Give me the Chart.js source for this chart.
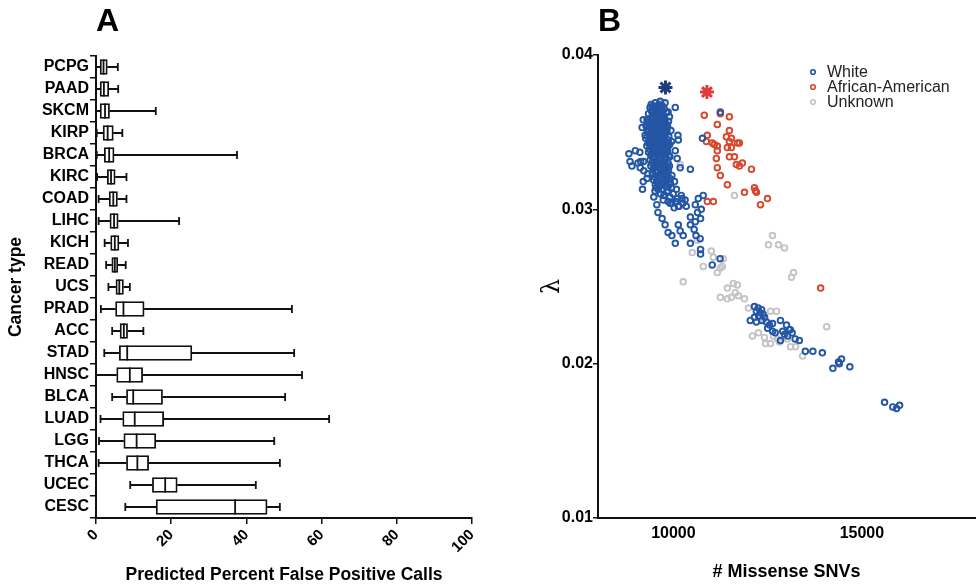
<!DOCTYPE html>
<html>
<head>
<meta charset="utf-8">
<script src="https://cdn.jsdelivr.net/npm/chart.js@4.4.1/dist/chart.umd.min.js"></script>
<style>
  body { margin: 0; background: #fff; width: 976px; height: 587px; overflow: hidden; position: relative; font-family: "Liberation Sans", Arial, sans-serif; }
  #boxChart { position: absolute; left: 0; top: 0; }
  #scatterChart { position: absolute; left: 490px; top: 0; }
  .panel { position: absolute; top: 0; font-weight: bold; font-size: 32px; line-height: 40px; }
</style>
</head>
<body>
<canvas id="boxChart" width="490" height="587"></canvas>
<canvas id="scatterChart" width="486" height="587"></canvas>
<div class="panel" style="left:96px">A</div>
<div class="panel" style="left:598px">B</div>
<script>
// ---- panel A: box plots ----
const cancerTypes = ["PCPG", "PAAD", "SKCM", "KIRP", "BRCA", "KIRC", "COAD", "LIHC", "KICH", "READ", "UCS",
  "PRAD", "ACC", "STAD", "HNSC", "BLCA", "LUAD", "LGG", "THCA", "UCEC", "CESC"];
const boxMin = [0, 0, 0, 0.2, 0.2, 0.3, 0.7, 0.7, 2.3, 2.7, 3.3, 1.3, 4.3, 2.2, 0, 4.3, 1.2, 0.8, 0.7, 9.1, 7.8];
const boxQ1 = [1.1, 1.1, 1.1, 1.9, 2.2, 3.0, 3.5, 3.7, 3.9, 4.2, 5.3, 5.2, 6.4, 6.2, 5.5, 8.1, 7.1, 7.4, 8.1, 15.0, 16.0];
const boxMed = [2.0, 2.1, 2.4, 3.1, 3.5, 4.0, 4.6, 4.8, 5.0, 5.0, 6.2, 7.3, 7.4, 8.3, 9.0, 9.9, 10.3, 10.8, 11.0, 18.4, 37.0];
const boxQ3 = [3.0, 3.4, 3.6, 4.6, 4.8, 5.1, 5.7, 5.9, 6.1, 5.8, 7.3, 12.8, 8.4, 25.5, 12.4, 17.7, 18.0, 15.9, 14.0, 21.6, 45.5];
const boxMax = [5.8, 5.9, 15.9, 7.0, 37.5, 8.1, 8.1, 22.1, 8.5, 7.9, 9.0, 52.1, 12.6, 52.7, 54.8, 50.3, 62.0, 47.4, 48.9, 42.5, 48.9];

// ---- panel B: scatter ----
const xTicksB = [10000, 15000];
const whitePts = [
  // left stragglers
  [8820, 0.0336], [8850, 0.0331], [8900, 0.0328], [8990, 0.0338], [9060, 0.0330], [9110, 0.0337], [9130, 0.0331],
  [9120, 0.0327], [9210, 0.0331], [9215, 0.0325], [9320, 0.0323], [9200, 0.0318], [9180, 0.0313], [9300, 0.0320],
  // top edge
  [9410, 0.0368], [9520, 0.0369], [9650, 0.0370], [9780, 0.0369], [10050, 0.0366], [9860, 0.0363], [9200, 0.0358],
  [9170, 0.0353], [9250, 0.0348], [10120, 0.0348], [10130, 0.0345], [10050, 0.0338], [10100, 0.0333], [10180, 0.0327],
  [10450, 0.0326], [11245, 0.0363], [10770, 0.0346], [10790, 0.0309],
  // dense core
  [9380, 0.0366], [9455, 0.0367], [9540, 0.0366], [9610, 0.0368], [9700, 0.0367], [9760, 0.0365],
  [9340, 0.0362], [9430, 0.0363], [9505, 0.0361], [9590, 0.0364], [9660, 0.0362], [9735, 0.0361], [9810, 0.0363], [9895, 0.0360],
  [9300, 0.0358], [9395, 0.0359], [9480, 0.0357], [9570, 0.0358], [9645, 0.0356], [9720, 0.0358], [9790, 0.0356], [9870, 0.0357],
  [9275, 0.0354], [9360, 0.0355], [9445, 0.0353], [9525, 0.0355], [9610, 0.0352], [9695, 0.0354], [9765, 0.0352], [9845, 0.0354], [9935, 0.0351],
  [9310, 0.0350], [9400, 0.0349], [9475, 0.0351], [9560, 0.0348], [9640, 0.0350], [9715, 0.0348], [9800, 0.0350], [9880, 0.0347],
  [9265, 0.0346], [9350, 0.0345], [9430, 0.0347], [9515, 0.0344], [9595, 0.0346], [9675, 0.0344], [9750, 0.0346], [9830, 0.0343], [9950, 0.0344],
  [9295, 0.0341], [9385, 0.0342], [9465, 0.0340], [9545, 0.0342], [9625, 0.0339], [9705, 0.0341], [9785, 0.0339], [9865, 0.0341],
  [9340, 0.0337], [9420, 0.0336], [9500, 0.0338], [9580, 0.0335], [9660, 0.0337], [9740, 0.0335], [9820, 0.0337], [9905, 0.0334],
  [9380, 0.0332], [9455, 0.0333], [9535, 0.0331], [9620, 0.0333], [9700, 0.0330], [9780, 0.0332], [9860, 0.0330],
  [9400, 0.0328], [9490, 0.0327], [9570, 0.0329], [9650, 0.0326], [9730, 0.0328], [9810, 0.0326], [9895, 0.0328],
  [9440, 0.0323], [9525, 0.0324], [9605, 0.0322], [9685, 0.0324], [9765, 0.0321], [9850, 0.0323], [9960, 0.0322],
  [9475, 0.0319], [9560, 0.0318], [9640, 0.0320], [9720, 0.0317], [9800, 0.0319], [9885, 0.0316], [10030, 0.0318],
  [9540, 0.0314], [9625, 0.0315], [9700, 0.0313], [9785, 0.0315], [9860, 0.0312], [9950, 0.0314], [10080, 0.0313],
  [9660, 0.0310], [9745, 0.0309], [9830, 0.0311], [9910, 0.0308], [9995, 0.0310], [10100, 0.0307], [10210, 0.0309],
  [9860, 0.0305], [9960, 0.0304], [10060, 0.0305], [10150, 0.0302], [10250, 0.0304],
  [9420, 0.0364], [9500, 0.0365], [9580, 0.0362], [9690, 0.0364], [9620, 0.0360], [9460, 0.0359], [9540, 0.0360],
  [9700, 0.0360], [9760, 0.0359], [9330, 0.0356], [9420, 0.0357], [9500, 0.0355], [9580, 0.0356], [9670, 0.0357],
  [9740, 0.0355], [9820, 0.0355], [9340, 0.0352], [9420, 0.0351], [9500, 0.0352], [9590, 0.0350], [9670, 0.0352],
  [9745, 0.0350], [9830, 0.0351], [9380, 0.0347], [9455, 0.0348], [9540, 0.0346], [9620, 0.0347], [9700, 0.0346],
  [9780, 0.0348], [9860, 0.0345], [9330, 0.0343], [9410, 0.0344], [9490, 0.0342], [9570, 0.0344], [9655, 0.0342],
  [9730, 0.0343], [9810, 0.0341], [9900, 0.0342], [9360, 0.0339], [9440, 0.0340], [9525, 0.0338], [9600, 0.0340],
  [9685, 0.0338], [9760, 0.0339], [9845, 0.0338], [9400, 0.0335], [9480, 0.0334], [9560, 0.0336], [9640, 0.0334],
  [9720, 0.0336], [9800, 0.0334], [9880, 0.0335], [9430, 0.0330], [9510, 0.0329], [9595, 0.0331], [9675, 0.0329],
  [9755, 0.0330], [9840, 0.0328], [9460, 0.0326], [9545, 0.0325], [9625, 0.0327], [9710, 0.0325], [9790, 0.0324],
  [9870, 0.0325], [9500, 0.0321], [9585, 0.0322], [9665, 0.0321], [9745, 0.0322], [9825, 0.0320], [9910, 0.0320],
  [9520, 0.0316], [9600, 0.0317], [9680, 0.0316], [9760, 0.0317], [9840, 0.0315], [9920, 0.0317],
  // tail below the core
  [9510, 0.0312], [9600, 0.0313], [9480, 0.0308], [9560, 0.0303], [9590, 0.0298], [9700, 0.0294], [9780, 0.0290],
  [9860, 0.0285], [9960, 0.0283], [10050, 0.0278], [10130, 0.0290], [10180, 0.0286], [10260, 0.0283], [10450, 0.0290],
  [10450, 0.0278], [10710, 0.0281], [10720, 0.0274], [10720, 0.0271], [10660, 0.0307], [10580, 0.0303], [10640, 0.0298],
  [10740, 0.0300], [10720, 0.0294], [10580, 0.0292], [10450, 0.0295], [10340, 0.0302], [10130, 0.0302], [10020, 0.0301],
  [9910, 0.0304], [9730, 0.0306], [10230, 0.0307], [10310, 0.0306], [11240, 0.0268], [11030, 0.0264], [10550, 0.0287],
  [10600, 0.0283],
  // lower group
  [12150, 0.0237], [12340, 0.0235], [12260, 0.0231], [12150, 0.0230], [12420, 0.0230], [12470, 0.0227], [12630, 0.0226],
  [12040, 0.0228], [12500, 0.0223], [12840, 0.0228], [12630, 0.0221], [12900, 0.0221], [13070, 0.0222], [13100, 0.0222],
  [13030, 0.0218], [12840, 0.0215], [13230, 0.0216], [13340, 0.0215], [13500, 0.0208], [13700, 0.0208], [13950, 0.0207],
  [12200, 0.0234], [12300, 0.0233], [12380, 0.0232], [12250, 0.0236], [12350, 0.0228], [12200, 0.0227], [12550, 0.0225],
  [12700, 0.0220], [13000, 0.0225], [12950, 0.0219], [13150, 0.0220],
  [14230, 0.0197], [14380, 0.0201], [14460, 0.0203], [14400, 0.0200], [14680, 0.0198],
  [15600, 0.0175], [15820, 0.0172], [15920, 0.0171], [16000, 0.0173]
];
const afrAmPts = [
  [10820, 0.0361], [11245, 0.0362], [11485, 0.0360], [11165, 0.0355], [11485, 0.0351], [10900, 0.0348], [11405, 0.0347],
  [11538, 0.0346], [10873, 0.0344], [11032, 0.0343], [11086, 0.0342], [11165, 0.0341], [11485, 0.0344], [11431, 0.0340],
  [11538, 0.0340], [11697, 0.0343], [11751, 0.0343], [11165, 0.0338], [11485, 0.0334], [11618, 0.0334], [11139, 0.0333],
  [11830, 0.0330], [11671, 0.0329], [11751, 0.0328], [12070, 0.0326], [11165, 0.0327], [11245, 0.0322], [11431, 0.0316],
  [11884, 0.0311], [12150, 0.0314], [12176, 0.0312], [12203, 0.0311], [10900, 0.0305], [11059, 0.0305], [12495, 0.0307],
  [12309, 0.0303], [13905, 0.0249]
];
const unknownPts = [
  [9702, 0.0369], [10181, 0.0329], [9862, 0.0345], [11618, 0.0309], [12628, 0.0283], [12522, 0.0277], [12788, 0.0277],
  [12948, 0.0275], [13187, 0.0259], [13134, 0.0256], [11006, 0.0273], [11059, 0.0269], [11325, 0.0268], [10633, 0.0280],
  [10500, 0.0272], [10793, 0.0263], [11245, 0.0262], [11165, 0.0259], [11298, 0.0263], [10261, 0.0253], [11431, 0.0249],
  [11591, 0.0252], [11697, 0.0251], [11245, 0.0243], [11431, 0.0242], [11538, 0.0243], [11724, 0.0244], [11884, 0.0242],
  [11644, 0.0246], [11990, 0.0236], [12575, 0.0234], [12735, 0.0234], [12389, 0.0229], [12096, 0.0218], [12256, 0.0220],
  [12416, 0.0217], [12655, 0.0218], [12761, 0.0216], [12442, 0.0213], [12575, 0.0213], [12815, 0.0214], [13107, 0.0211],
  [13240, 0.0211], [13027, 0.0216], [13426, 0.0205], [14065, 0.0224]
];
const starWhite = [[9790, 0.0379]];
const starAfrAm = [[10890, 0.0376]];
const legendLabels = ["White", "African-American", "Unknown"];
const legendColors = ["#2456a5", "#d8472c", "#c4c4c4"];

Chart.defaults.font.family = "'Liberation Sans', Arial, sans-serif";
Chart.defaults.color = "#000";
Chart.defaults.animation = false;

const whiskerPlugin = {
  id: "whiskers",
  afterDatasetsDraw(chart) {
    const { ctx, scales: { x, y } } = chart;
    ctx.save();
    ctx.strokeStyle = "#111";
    ctx.lineWidth = 1.8;
    cancerTypes.forEach((c, i) => {
      const yc = y.getPixelForValue(i);
      const x0 = x.getPixelForValue(boxMin[i]);
      const x1 = x.getPixelForValue(boxQ1[i]);
      const xm = x.getPixelForValue(boxMed[i]);
      const x3 = x.getPixelForValue(boxQ3[i]);
      const x4 = x.getPixelForValue(boxMax[i]);
      ctx.beginPath();
      ctx.moveTo(x0, yc); ctx.lineTo(x1, yc);
      ctx.moveTo(x3, yc); ctx.lineTo(x4, yc);
      ctx.moveTo(x0, yc - 4); ctx.lineTo(x0, yc + 4);
      ctx.moveTo(x4, yc - 4); ctx.lineTo(x4, yc + 4);
      ctx.moveTo(xm, yc - 7.5); ctx.lineTo(xm, yc + 7.5);
      ctx.stroke();
    });
    ctx.restore();
  }
};

new Chart(document.getElementById("boxChart"), {
  type: "bar",
  data: {
    labels: cancerTypes,
    datasets: [{
      data: cancerTypes.map((c, i) => [boxQ1[i], boxQ3[i]]),
      backgroundColor: "#fff",
      borderColor: "#111",
      borderWidth: 1.8,
      borderSkipped: false,
      barThickness: 15
    }]
  },
  options: {
    indexAxis: "y",
    responsive: false,
    layout: { autoPadding: false, padding: { top: 56, right: 18, left: 0, bottom: 0 } },
    plugins: { legend: { display: false }, tooltip: { enabled: false } },
    scales: {
      x: {
        min: 0, max: 100,
        ticks: { stepSize: 20, minRotation: 45, maxRotation: 45, padding: 2, font: { size: 15, weight: "bold" } },
        grid: { drawOnChartArea: false, tickLength: 6, color: "#111", lineWidth: 1.5 },
        border: { color: "#111", width: 2 },
        title: { display: true, text: "Predicted Percent False Positive Calls", font: { size: 17.5, weight: "bold" }, padding: { top: 0, bottom: 1 } },
        afterFit: (s) => { s.height = 69; }
      },
      y: {
        ticks: { autoSkip: false, padding: 1, font: { size: 16, weight: "bold" } },
        grid: { drawOnChartArea: false, tickLength: 6, color: "#111", lineWidth: 1.5 },
        border: { color: "#111", width: 2 },
        title: { display: true, text: "Cancer type", font: { size: 17.5, weight: "bold" }, padding: { top: 6, bottom: 0 } },
        afterFit: (s) => { s.width = 96; }
      }
    }
  },
  plugins: [whiskerPlugin]
});

const legendPlugin = {
  id: "legendB",
  afterDraw(chart) {
    const ctx = chart.ctx;
    const lx = chart.chartArea.left + 215;
    ctx.save();
    ctx.font = "16px 'Liberation Sans', Arial, sans-serif";
    ctx.textBaseline = "middle";
    legendLabels.forEach((lab, i) => {
      const ly = 72 + i * 15;
      ctx.beginPath();
      ctx.arc(lx, ly, 2.3, 0, 2 * Math.PI);
      ctx.strokeStyle = legendColors[i];
      ctx.lineWidth = 1.6;
      ctx.stroke();
      ctx.fillStyle = "#222";
      ctx.fillText(lab, lx + 14, ly + 1);
    });
    ctx.restore();
  }
};

const ring = { backgroundColor: "rgba(0,0,0,0)", pointRadius: 2.8, borderWidth: 1.9 };
new Chart(document.getElementById("scatterChart"), {
  type: "scatter",
  data: {
    datasets: [
      { data: starWhite, pointStyle: "star", pointRadius: 7, borderWidth: 3, borderColor: "#1d3d7c" },
      { data: starAfrAm, pointStyle: "star", pointRadius: 7, borderWidth: 3, borderColor: "#e03a3a" },
      { label: legendLabels[0], data: whitePts, borderColor: legendColors[0], ...ring },
      { label: legendLabels[1], data: afrAmPts, borderColor: legendColors[1], ...ring },
      { label: legendLabels[2], data: unknownPts, borderColor: legendColors[2], ...ring }
    ]
  },
  options: {
    responsive: false,
    layout: { autoPadding: false, padding: { top: 55, right: 1, left: 0, bottom: 0 } },
    plugins: { legend: { display: false }, tooltip: { enabled: false } },
    scales: {
      x: {
        type: "linear", min: 8000, max: 18000,
        afterBuildTicks: (s) => { s.ticks = xTicksB.map((v) => ({ value: v })); },
        ticks: { padding: 6, font: { size: 16, weight: "bold" }, callback: (v) => String(v) },
        grid: { drawOnChartArea: false, drawTicks: false },
        border: { color: "#111", width: 2 },
        title: { display: true, text: "# Missense SNVs", font: { size: 18, weight: "bold" }, padding: { top: 0, bottom: 4 } },
        afterFit: (s) => { s.height = 69; s.paddingLeft = 0; s.paddingRight = 0; }
      },
      y: {
        min: 0.01, max: 0.04,
        ticks: { stepSize: 0.01, padding: 0, font: { size: 16, weight: "bold" } },
        grid: { drawOnChartArea: false, tickLength: 5, color: "#111", lineWidth: 1.5 },
        border: { color: "#111", width: 2 },
        title: { display: true, text: "λ", font: { family: "'DejaVu Serif', serif", size: 24, weight: "normal" }, padding: { top: 48, bottom: 0 } },
        afterFit: (s) => { s.width = 108; }
      }
    }
  },
  plugins: [legendPlugin]
});
</script>
</body>
</html>
